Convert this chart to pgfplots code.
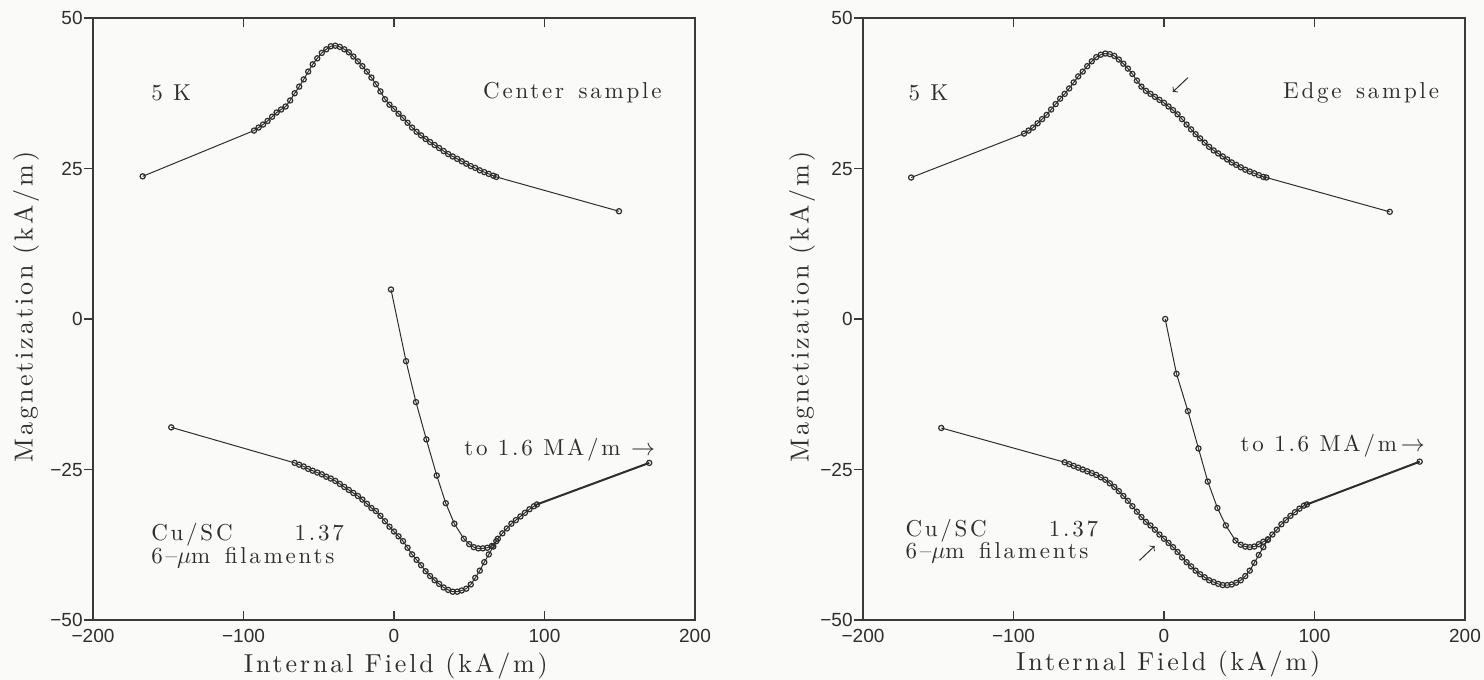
\documentclass[border=0pt]{standalone}
\usepackage{fontspec}
\setsansfont{Liberation Sans}
\newfontfamily\annotfamily{lmroman10-regular.otf}[LetterSpace=12]
\newfontfamily\labfamily{lmroman10-regular.otf}[LetterSpace=11]
\usepackage{pgfplots}
\pgfplotsset{compat=1.18}
\definecolor{ink}{HTML}{2E2E2E}
\definecolor{frame}{HTML}{3A3A3A}
\definecolor{bg}{HTML}{FAFAF8}
\newcommand{\annot}{\annotfamily\fontsize{11.5pt}{13pt}\selectfont}
\newcommand{\labfont}{\labfamily\fontsize{13pt}{15pt}\selectfont}
\pgfplotsset{
  myax/.style={
    scale only axis, width=301pt, height=301pt,
    xmin=-200, xmax=200, ymin=-50, ymax=50,
    xtick={-200,-100,0,100,200},
    xticklabels={−200,−100,0,100,200},
    ytick={-50,-25,0,25,50},
    yticklabels={−50,−25,0,25,50},
    ticklabel style={font=\sffamily\fontsize{9.5pt}{11pt}\selectfont, color=ink},
    xticklabel style={anchor=north, inner sep=0pt, yshift=-4.5pt},
    yticklabel style={anchor=east, inner sep=0pt, xshift=-5pt},
    tick align=inside,
    xtick pos=both,
    ytick pos=left,
    major tick length=4.5pt,
    y tick style={xshift=-4.5pt},
    tick style={color=frame, line width=0.6pt},
    axis line style={color=frame, line width=0.7pt},
    xlabel={Internal Field (kA/m)},
    ylabel={Magnetization (kA/m)},
    label style={font=\labfont, color=ink},
    clip=false,
  },
  ser/.style={color=ink, line width=0.5pt, mark=o, mark size=1.3pt, mark options={line width=0.6pt, solid, fill=gray!60}},
}
\begin{document}
\begin{tikzpicture}
\path[use as bounding box, fill=bg] (0,0) rectangle (742pt,340pt);
% ---------------- Left: Center sample ----------------
\begin{axis}[myax, at={(46.5pt,30pt)}, anchor=south west,
  xlabel style={at={(axis description cs:0.503,-0.076)}, anchor=center},
  ylabel style={at={(axis description cs:-0.111,0.52)}, anchor=center}]
\addplot[ser] coordinates {
(-167,23.7) (-93,31.3) (-90,31.8) (-87,32.3) (-84,32.9) (-81,33.6) (-78,34.3) (-75,34.8) (-72,35.3) (-69,36.3) (-66,37.5) (-63,38.6) (-60,39.8) (-57,41.1) (-54,42.3) (-51,43.3) (-48,44.2) (-45,44.8) (-42,45.3) (-39,45.4) (-36,45.2) (-33,44.8) (-30,44.3) (-27,43.6) (-24,42.8) (-21,42.0) (-18,41.1) (-15,40.1) (-12,39.0) (-9,37.8) (-6,36.5) (-3,35.6) (0,34.9) (3,34.1) (6,33.4) (9,32.6) (12,31.8) (15,31.1) (18,30.5) (21,29.9) (24,29.4) (27,28.9) (30,28.4) (33,27.9) (36,27.4) (39,27.0) (42,26.6) (45,26.2) (48,25.8) (51,25.4) (54,25.1) (57,24.7) (60,24.4) (63,24.1) (66,23.8) (68,23.6) (149.5,17.9)
};
\addplot[ser] coordinates {
(-148,-18.0) (-66,-23.9) (-63,-24.2) (-60,-24.5) (-57,-24.9) (-54,-25.2) (-51,-25.5) (-48,-25.8) (-45,-26.2) (-42,-26.5) (-39,-26.9) (-36,-27.4) (-33,-27.9) (-30,-28.4) (-27,-28.9) (-24,-29.4) (-21,-30.0) (-18,-30.7) (-15,-31.4) (-12,-31.9) (-9,-32.7) (-6,-33.6) (-3,-34.5) (0,-35.3) (3,-36.1) (6,-36.9) (9,-38.0) (12,-39.1) (15,-40.0) (18,-40.9) (21,-41.9) (24,-42.7) (27,-43.4) (30,-44.0) (33,-44.6) (36,-45.0) (39,-45.3) (42,-45.3) (45,-45.1) (48,-44.8) (51,-44.1) (54,-43.0) (57,-41.8) (60,-40.4) (63,-39.1) (66,-37.8) (69,-36.5) (72,-35.6) (75,-34.8) (78,-34.0) (81,-33.4) (84,-32.8) (87,-32.2) (90,-31.6) (93,-31.1) (95,-30.8) (169.6,-23.9)
};
\addplot[ser] coordinates {
(-2,4.9) (8,-7.0) (14.6,-13.8) (21.5,-20.0) (28.4,-26.0) (34.4,-30.6) (40.1,-34.0) (46.4,-36.5) (50,-37.4) (53,-37.9) (56,-38.1) (59,-38.1) (62,-38.0) (65,-37.7) (68,-36.9)
};
\addplot[color=ink, line width=1pt, no marks] coordinates {(95,-30.8) (169.6,-23.9)};
\node[anchor=west, inner sep=0pt, font=\annot, text=ink] at (axis cs:-161.5,37.6) {5 K};
\node[anchor=east, inner sep=0pt, font=\annot, text=ink] at (axis cs:178,37.6) {Center\hspace{2pt} sample};
\node[anchor=west, inner sep=0pt, font=\annot, text=ink] at (axis cs:-161.5,-35.9) {Cu/SC\hspace{31pt}1.37};
\node[anchor=west, inner sep=0pt, font=\annot, text=ink] at (axis cs:-161.5,-39.7) {6–$\mu$m\hspace{2pt} filaments};
\node[anchor=west, inner sep=0pt, font=\annot, text=ink] at (axis cs:46.5,-21.8) {to 1.6 MA/m $\rightarrow$};
\end{axis}
% ---------------- Right: Edge sample ----------------
\begin{axis}[myax, at={(431.5pt,30pt)}, anchor=south west,
  xlabel style={at={(axis description cs:0.507,-0.073)}, anchor=center},
  ylabel style={at={(axis description cs:-0.101,0.52)}, anchor=center}]
\addplot[ser] coordinates {
(-168,23.5) (-93,30.8) (-90,31.3) (-87,31.8) (-84,32.5) (-81,33.2) (-78,33.9) (-75,34.8) (-72,35.7) (-69,36.6) (-66,37.4) (-63,38.3) (-60,39.3) (-57,40.3) (-54,41.1) (-51,42.0) (-48,42.8) (-45,43.5) (-42,43.9) (-39,44.1) (-36,44.0) (-33,43.7) (-30,43.1) (-27,42.4) (-24,41.6) (-21,40.7) (-18,39.6) (-15,38.6) (-12,37.9) (-9,37.4) (-6,36.9) (-3,36.4) (0,35.9) (3,35.3) (6,34.7) (9,34.0) (12,33.2) (15,32.3) (18,31.5) (21,30.7) (24,30.0) (27,29.3) (30,28.6) (33,28.0) (36,27.5) (39,27.0) (42,26.5) (45,26.0) (48,25.6) (51,25.2) (54,24.8) (57,24.5) (60,24.2) (63,23.9) (66,23.6) (68,23.5) (150,17.8)
};
\addplot[ser] coordinates {
(-148,-18.1) (-66,-23.8) (-63,-24.1) (-60,-24.4) (-57,-24.7) (-54,-25.0) (-51,-25.3) (-48,-25.6) (-45,-25.9) (-42,-26.3) (-39,-26.7) (-36,-27.3) (-33,-27.9) (-30,-28.6) (-27,-29.4) (-24,-30.2) (-21,-31.1) (-18,-32.0) (-15,-32.9) (-12,-33.7) (-9,-34.3) (-6,-35.0) (-3,-35.8) (0,-36.5) (3,-37.2) (6,-37.9) (9,-38.7) (12,-39.6) (15,-40.4) (18,-41.1) (21,-41.8) (24,-42.4) (27,-42.9) (30,-43.4) (33,-43.7) (36,-44.0) (39,-44.2) (42,-44.2) (45,-44.1) (48,-43.8) (51,-43.4) (54,-42.7) (57,-41.8) (60,-40.5) (63,-39.2) (66,-37.9) (69,-36.7) (72,-35.8) (75,-35.0) (78,-34.1) (81,-33.4) (84,-32.7) (87,-32.1) (90,-31.5) (93,-31.0) (95,-30.8) (169.9,-23.7)
};
\addplot[ser] coordinates {
(0.8,0.0) (8.3,-9.1) (15.9,-15.3) (22.9,-21.5) (29.1,-27.0) (35.5,-31.4) (41.1,-34.3) (47.5,-36.8) (51,-37.5) (54,-37.8) (57,-37.9) (60,-37.8) (63,-37.4) (66,-37.0) (69,-36.6)
};
\addplot[color=ink, line width=1pt, no marks] coordinates {(95,-30.8) (169.9,-23.7)};
\node[anchor=west, inner sep=0pt, font=\annot, text=ink] at (axis cs:-170,37.5) {5 K};
\node[anchor=east, inner sep=0pt, font=\annot, text=ink] at (axis cs:183,37.5) {Edge\hspace{2pt} sample};
\node[anchor=west, inner sep=0pt, font=\annot, text=ink] at (axis cs:-172,-35.2) {Cu/SC\hspace{31pt}1.37};
\node[anchor=west, inner sep=0pt, font=\annot, text=ink] at (axis cs:-172,-38.8) {6–$\mu$m\hspace{2pt} filaments};
\node[anchor=west, inner sep=0pt, font=\annot, text=ink] at (axis cs:50.7,-21.1) {to 1.6 MA/m\,$\rightarrow$};
\draw[->, color=ink, line width=0.5pt] (axis cs:15.9,40.1) -- (axis cs:5.8,37.7);
\draw[->, color=ink, line width=0.5pt] (axis cs:-16.3,-40.1) -- (axis cs:-6.2,-37.7);
\end{axis}
\end{tikzpicture}
\end{document}
